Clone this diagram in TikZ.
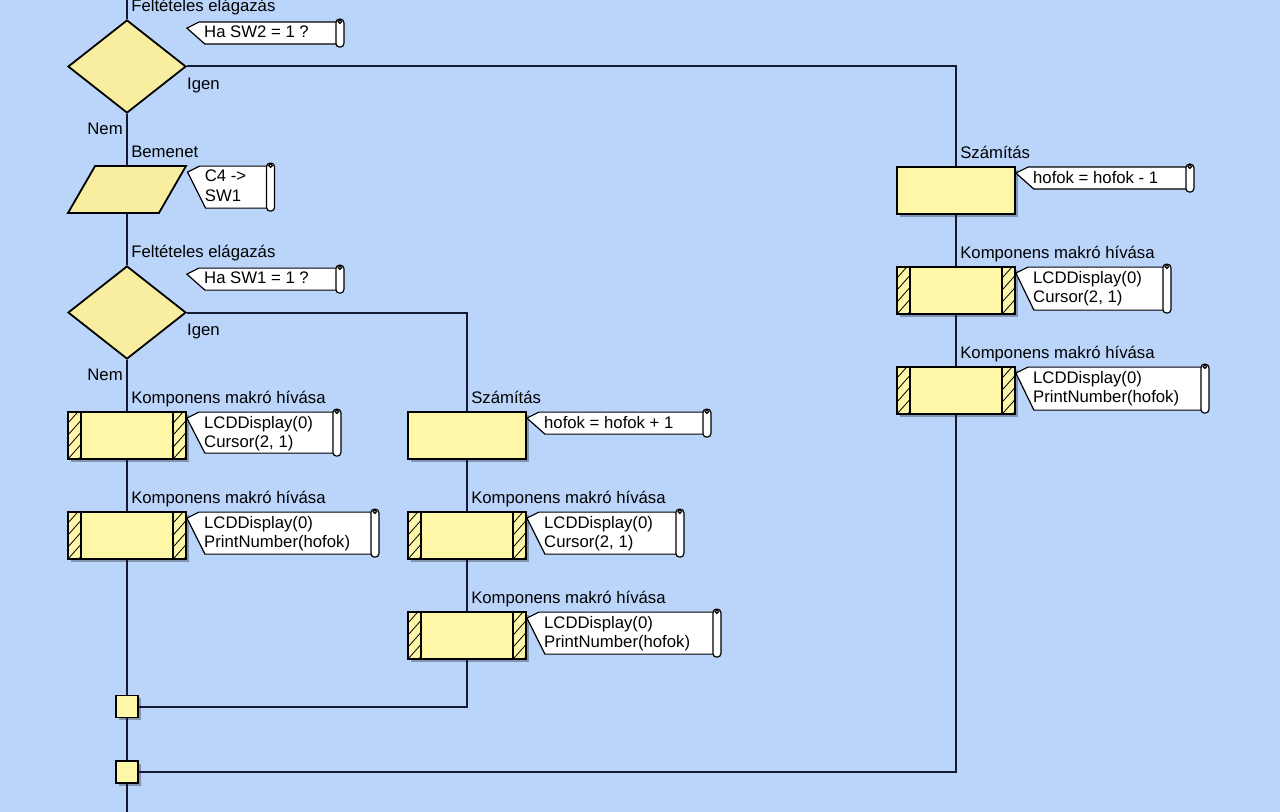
\documentclass[tikz,border=0pt]{standalone}
\usepackage{fontspec}
\setmainfont{Liberation Sans}
\usetikzlibrary{positioning, calc, shapes.geometric, shadows}
\definecolor{BgBlue}{HTML}{BBD5FA}
\definecolor{YellowA}{HTML}{FFF7A8}
\definecolor{YellowB}{HTML}{F9EEA0}
\definecolor{NavyA}{HTML}{141A33}
\newcommand{\chartfont}{\fontsize{11.9pt}{14.2pt}\selectfont}
\tikzset{
  flow/.style={draw=NavyA, line width=0.5mm},
  shade3d/.style={drop shadow={shadow xshift=0.7mm, shadow yshift=-0.7mm,
                  fill=black, opacity=0.3}},
  box/.style={draw=black, fill=YellowA, line width=0.45mm,
              minimum width=29.5mm, minimum height=11.75mm, inner sep=0pt, shade3d},
  macro/.style={box, path picture={
      \draw[line width=0.4mm] ([xshift=3.2mm]path picture bounding box.south west)
        -- ([xshift=3.2mm]path picture bounding box.north west);
      \draw[line width=0.4mm] ([xshift=-3.2mm]path picture bounding box.south east)
        -- ([xshift=-3.2mm]path picture bounding box.north east);
      \foreach \k in {-1,...,4}{
        \draw[line width=0.2mm] ([yshift=\k*3mm]path picture bounding box.south west)
          -- ++(3.2mm,3.6mm);
        \draw[line width=0.2mm] ([xshift=-3.2mm,yshift=\k*3mm]path picture bounding box.south east)
          -- ++(3.2mm,3.6mm);
      }}},
  decision/.style={diamond, draw=black, fill=YellowB, line width=0.45mm,
                   minimum width=29.5mm, minimum height=23.25mm, inner sep=0pt, aspect=1.27},
  input/.style={trapezium, trapezium left angle=67, trapezium right angle=113,
                trapezium stretches=true, draw=black, fill=YellowB, line width=0.45mm,
                minimum width=29.5mm, minimum height=11.75mm, inner sep=2pt},
  joint/.style={draw=black, fill=YellowA, line width=0.45mm, minimum size=5.5mm,
                inner sep=0pt, shade3d},
  lbl/.style={font=\chartfont, inner sep=0pt, text height=8.6pt, text depth=2.4pt},
  noteline/.style={draw=black, line width=0.3mm, fill=white},
  notetext/.style={font=\chartfont, inner sep=0pt, anchor=north west, align=left}
}
% comment flag: name, origin, width, height, text
\newcommand{\megj}[5]{%
  \coordinate (#1) at (#2);
  \draw[noteline] ($(#1)+(12,3)$) -- ($(#1)+(#3-4,3)$) -- ($(#1)+(#3-4,#4-3)$)
    -- ($(#1)+(18,#4-3)$) -- ($(#1)+(0,9)$) -- cycle;
  \draw[noteline, rounded corners=0.9mm] ($(#1)+(#3-8,0)$) rectangle ($(#1)+(#3,#4)$);
  \draw[noteline] ($(#1)+(#3-4,2.5)$) circle[radius=0.45mm];
  \node[notetext] at ($(#1)+(17,6.5)$) {#5};
}

\begin{document}
\begin{tikzpicture}[x=0.25mm, y=-0.25mm, node distance=12.8mm]

  % ----- canvas -----
  \useasboundingbox (0,0) rectangle (1280,812);
  \fill[BgBlue] (0,0) rectangle (1280,812);
  \coordinate (top) at (127,0);
  \coordinate (bottom) at (127,812);

  % ----- main column -----
  \node[decision] (d1) at (127,66.5) {};
  \node[lbl, above right=0.9mm and 1mm of d1.north] (d1t) {Feltételes elágazás};
  \node[lbl, below right=2.6mm and 0mm of d1.east] (d1y) {Igen};
  \node[lbl, below left=2mm and 1mm of d1.south] (d1n) {Nem};

  \node[input, below=of d1] (in1) {};
  \node[lbl, above right=0.9mm and 1mm of in1.north] (in1t) {Bemenet};

  \node[decision, below=of in1] (d2) {};
  \node[lbl, above right=0.9mm and 1mm of d2.north] (d2t) {Feltételes elágazás};
  \node[lbl, below right=2.6mm and 0mm of d2.east] (d2y) {Igen};
  \node[lbl, below left=2mm and 1mm of d2.south] (d2n) {Nem};

  \node[macro, below=of d2] (mac1a) {};
  \node[lbl, above right=0.9mm and 1mm of mac1a.north] (mac1at) {Komponens makró hívása};
  \node[macro, below=of mac1a] (mac1b) {};
  \node[lbl, above right=0.9mm and 1mm of mac1b.north] (mac1bt) {Komponens makró hívása};

  \node[joint] (j1) at (127,706.5) {};
  \node[joint] (j2) at (127,772) {};

  % ----- SW1 = 1 branch -----
  \node[box] (calc2) at (467,435.5) {};
  \node[lbl, above right=0.9mm and 1mm of calc2.north] (calc2t) {Számítás};
  \node[macro, below=of calc2] (mac2a) {};
  \node[lbl, above right=0.9mm and 1mm of mac2a.north] (mac2at) {Komponens makró hívása};
  \node[macro, below=of mac2a] (mac2b) {};
  \node[lbl, above right=0.9mm and 1mm of mac2b.north] (mac2bt) {Komponens makró hívása};

  % ----- SW2 = 1 branch -----
  \node[box] (calc3) at (956,190.5) {};
  \node[lbl, above right=0.9mm and 1mm of calc3.north] (calc3t) {Számítás};
  \node[macro, below=of calc3] (mac3a) {};
  \node[lbl, above right=0.9mm and 1mm of mac3a.north] (mac3at) {Komponens makró hívása};
  \node[macro, below=of mac3a] (mac3b) {};
  \node[lbl, above right=0.9mm and 1mm of mac3b.north] (mac3bt) {Komponens makró hívása};

  % ----- connectors -----
  \draw[flow] (top) -- (d1) -- (in1) -- (d2) -- (mac1a) -- (mac1b) -- (j1) -- (j2) -- (bottom);
  \draw[flow] (d1.east) -| (calc3);
  \draw[flow] (calc3) -- (mac3a) -- (mac3b);
  \draw[flow] (mac3b) |- (j2);
  \draw[flow] (d2.east) -| (calc2);
  \draw[flow] (calc2) -- (mac2a) -- (mac2b);
  \draw[flow] (mac2b) |- (j1);

  % ----- comment flags -----
  \megj{d1c}{d1.north -| d1.east}{157}{28}{Ha SW2 = 1 ?}
  \megj{in1c}{$(in1.top right corner)+(0,-2)$}{87}{48}{C4 ->\\SW1}
  \megj{d2c}{d2.north -| d2.east}{157}{28}{Ha SW1 = 1 ?}
  \megj{mac1ac}{$(mac1a.north east)+(0,-2)$}{154}{47}{LCDDisplay(0)\\Cursor(2, 1)}
  \megj{mac1bc}{$(mac1b.north east)+(0,-2)$}{192}{48}{LCDDisplay(0)\\PrintNumber(hofok)}
  \megj{calc2c}{$(calc2.north east)+(0,-2)$}{184}{28}{hofok = hofok + 1}
  \megj{mac2ac}{$(mac2a.north east)+(0,-2)$}{157}{48}{LCDDisplay(0)\\Cursor(2, 1)}
  \megj{mac2bc}{$(mac2b.north east)+(0,-2)$}{194}{48}{LCDDisplay(0)\\PrintNumber(hofok)}
  \megj{calc3c}{$(calc3.north east)+(0,-2)$}{178}{28}{hofok = hofok - 1}
  \megj{mac3ac}{$(mac3a.north east)+(0,-2)$}{155}{49}{LCDDisplay(0)\\Cursor(2, 1)}
  \megj{mac3bc}{$(mac3b.north east)+(0,-2)$}{193}{49}{LCDDisplay(0)\\PrintNumber(hofok)}

\end{tikzpicture}
\end{document}
